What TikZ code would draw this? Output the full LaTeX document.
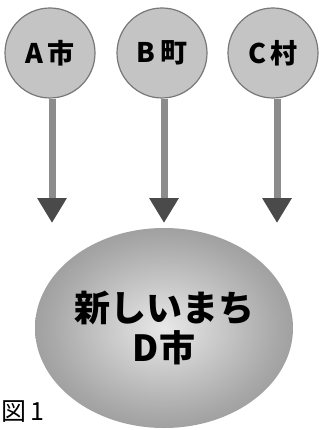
\documentclass[tikz,border=0pt]{standalone}
\usepackage{xcolor}
\usepackage{fontspec}
\usepackage{tikz}
\usetikzlibrary{shapes.geometric}
\usetikzlibrary{arrows.meta}

\newfontfamily\cjk{Noto Sans CJK JP}

\definecolor{townfill}{HTML}{C4C4C4}
\definecolor{townline}{HTML}{787878}
\definecolor{stemgray}{HTML}{8C8C8C}
\definecolor{headgray}{HTML}{4A4A4A}
\definecolor{ballin}{HTML}{E8E8E8}
\definecolor{ballmid}{HTML}{A8A8A8}
\definecolor{ballout}{HTML}{646464}

\pgfdeclareradialshading{cityball}{\pgfpoint{0bp}{0bp}}{%
    color(0bp)=(ballin); color(22bp)=(ballmid); color(50bp)=(ballout)}

\begin{document}
\begin{tikzpicture}[x=1pt,y=-1pt]

        \def \radius {45}
        \def \tipy {223}

        \useasboundingbox (0,0) rectangle (320,430);

        \cjk

        % Draw towns
        \foreach \i/\x/\name in {1/50/A\,市, 2/162/B\,町, 3/273/C\,村} {
            \node[circle, minimum size=2*\radius pt, inner sep=0pt,
                  fill=townfill, draw=townline, line width=1.2pt,
                  font=\bfseries\fontsize{27}{30}\selectfont]
                (town-\i) at (\x, 53) {\name};
        }
        % Draw the new city
        \node[ellipse, minimum width=258pt, minimum height=200pt, inner sep=0pt,
              shading=cityball, align=center,
              font=\bfseries\fontsize{36}{40}\selectfont]
            (city) at (164, 328) {新しいまち\\D市};
        % Draw arrows
        \foreach \i/\x in {1/52, 2/164, 3/277} {
            \coordinate (tip-\i) at (\x, \tipy);
            \draw[stemgray, line width=7pt,
                  -{Triangle[length=25pt, width=28pt, color=headgray]}]
                (town-\i.south -| tip-\i) -- (tip-\i);
        }
        % Caption
        \node[anchor=west, inner sep=0pt, font=\fontsize{25}{28}\selectfont]
            (caption) at (1, 412) {図\,1};

    \end{tikzpicture}
\end{document}
